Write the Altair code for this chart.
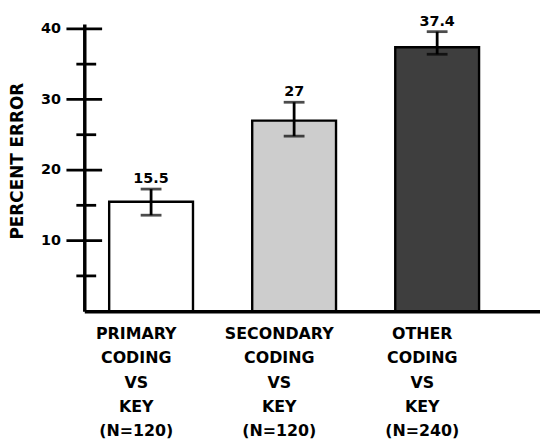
import altair as alt
import pandas as pd

# ---- data ----
groups = ["PRIMARY|CODING|VS|KEY|(N=120)",
          "SECONDARY|CODING|VS|KEY|(N=120)",
          "OTHER|CODING|VS|KEY|(N=240)"]
values = [15.5, 27, 37.4]
err_low = [13.6, 24.8, 36.4]
err_high = [17.3, 29.6, 39.6]
value_text = ["15.5", "27", "37.4"]
fills = ["#ffffff", "#cdcdcd", "#3e3e3e"]

major_ticks = [10, 20, 30, 40]
minor_ticks = [5, 15, 25, 35]

df = pd.DataFrame({"group": groups, "value": values, "lo": err_low,
                   "hi": err_high, "txt": value_text})
ticks_major = pd.DataFrame({"v": major_ticks})
ticks_minor = pd.DataFrame({"v": minor_ticks})

FONT = "DejaVu Sans"

yscale = alt.Scale(domain=[0, 40.7], nice=False, zero=True)
yaxis = alt.Axis(values=major_ticks, ticks=False, tickSize=0, grid=False,
                 domainColor="black", domainWidth=3.5,
                 labelFont=FONT, labelFontSize=14.5, labelFontWeight="bold",
                 labelColor="black", labelPadding=24,
                 title="PERCENT ERROR", titleFont=FONT, titleFontSize=17,
                 titleFontWeight="bold", titleColor="black",
                 titleX=-67, titleY=160 - 22, titleBaseline="middle")

xscale = alt.Scale(paddingInner=0.414, paddingOuter=0.3, align=0.29)
xaxis = alt.Axis(ticks=False, grid=False, domainColor="black", domainWidth=3.5,
                 labelAngle=0, labelFont=FONT, labelFontSize=16,
                 labelFontWeight="bold", labelColor="black",
                 labelExpr="split(datum.label, '|')", labelLineHeight=24.3,
                 labelPadding=15, labelOffset=-15, labelBaseline="top",
                 title=None)

X = alt.X("group:N", sort=groups, scale=xscale, axis=xaxis)

bars = alt.Chart(df).mark_bar(stroke="black", strokeWidth=2.4).encode(
    x=X,
    y=alt.Y("value:Q", scale=yscale, axis=yaxis),
    fill=alt.Fill("group:N", scale=alt.Scale(domain=groups, range=fills), legend=None),
)

err = alt.Chart(df).mark_rule(color="black", strokeWidth=2.8).encode(
    x=X,
    y=alt.Y("lo:Q", scale=yscale, axis=yaxis),
    y2="hi:Q",
)

cap_lo = alt.Chart(df).mark_tick(color="black", thickness=2.8, size=21).encode(
    x=X, y=alt.Y("lo:Q", scale=yscale, axis=yaxis))
cap_hi = alt.Chart(df).mark_tick(color="black", thickness=2.8, size=21).encode(
    x=X, y=alt.Y("hi:Q", scale=yscale, axis=yaxis))

labels = alt.Chart(df).mark_text(font=FONT, fontSize=14.5, fontWeight="bold",
                                 color="black", baseline="alphabetic", dy=-6).encode(
    x=X, y=alt.Y("hi:Q", scale=yscale, axis=yaxis), text="txt:N")

tmaj = alt.Chart(ticks_major).mark_rule(color="black", strokeWidth=2.8).encode(
    y=alt.Y("v:Q", scale=yscale, axis=yaxis),
    x=alt.value(-18), x2=alt.value(18))
tmin = alt.Chart(ticks_minor).mark_rule(color="black", strokeWidth=2.8).encode(
    y=alt.Y("v:Q", scale=yscale, axis=yaxis),
    x=alt.value(-8), x2=alt.value(12))

chart = alt.layer(bars, err, cap_lo, cap_hi, labels, tmaj, tmin).properties(
    width=460, height=290,
    background="white",
    padding={"left": 77, "top": 14, "right": 0, "bottom": 132},
    autosize=alt.AutoSizeParams(type="none"),
).configure_view(stroke="transparent", strokeWidth=0)

chart.save("out.html", embed_options={"renderer": "svg", "actions": False})
